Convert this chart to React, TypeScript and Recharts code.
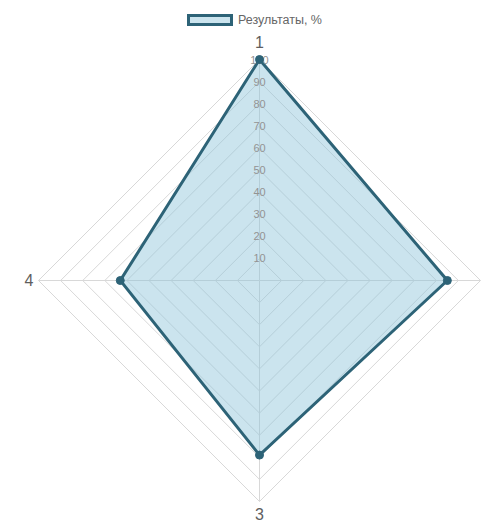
import React from "react";
import { RadarChart, Radar, PolarGrid, PolarAngleAxis, PolarRadiusAxis } from "recharts";

const categories = ["1", "2", "3", "4"];
const results = [100, 85, 79, 63];
const radiusTicks = [0, 10, 20, 30, 40, 50, 60, 70, 80, 90, 100];
const seriesName = "Результаты, %";

const data = categories.map((c, i) => ({ axis: c, value: results[i] }));

const FONT = '"Liberation Sans", Arial, Helvetica, sans-serif';
const STROKE = "#2d6377";

const AngleTick = (props: any) => {
  const { x, y, cy, textAnchor, payload } = props;
  let dx = 0;
  let dy = 0;
  if (textAnchor === "middle") dy = y < cy ? -9 : 5;
  else if (textAnchor === "end") dx = 3;
  else dx = -3;
  return (
    <text x={x + dx} y={y + dy} textAnchor={textAnchor} dominantBaseline="central" fontSize={16} fill="#5e5e5e" fontFamily={FONT}>
      {payload.value}
    </text>
  );
};

const RadiusTick = (props: any) => {
  const { x, y, payload } = props;
  if (payload.value === 0) return null;
  return (
    <text x={x} y={y} textAnchor="middle" dominantBaseline="central" fontSize={11} fill="#939393" fontFamily={FONT}>
      {payload.value}
    </text>
  );
};

export default function App() {
  return (
    <div style={{ position: "absolute", left: 0, top: 0, width: 482, height: 520, background: "#fff", overflow: "hidden" }}>
      <div style={{ position: "absolute", top: 13, left: 0, width: 509, display: "flex", justifyContent: "center", alignItems: "center", fontFamily: FONT, fontSize: 12.5, color: "#666" }}>
        <span style={{ display: "inline-block", width: 40, height: 6, border: `3px solid ${STROKE}`, background: "#cbe4ee", marginRight: 5 }} />
        <span>{seriesName}</span>
      </div>
      <RadarChart width={482} height={520} data={data} cx={259.5} cy={280.5} outerRadius={221} margin={{ top: 0, right: 0, bottom: 0, left: 0 }}>
        <PolarGrid gridType="polygon" stroke="#d8d8d8" />
        <PolarAngleAxis dataKey="axis" tick={<AngleTick />} tickLine={false} axisLine={false} />
        <PolarRadiusAxis angle={90} domain={[0, 100]} ticks={radiusTicks} tickCount={11} axisLine={false} tick={<RadiusTick />} />
        <Radar
          name={seriesName}
          dataKey="value"
          stroke={STROKE}
          strokeWidth={3}
          fill="#8cc3d9"
          fillOpacity={0.45}
          dot={{ r: 4, fill: STROKE, stroke: STROKE, strokeWidth: 1, fillOpacity: 1 }}
          isAnimationActive={false}
        />
      </RadarChart>
    </div>
  );
}
